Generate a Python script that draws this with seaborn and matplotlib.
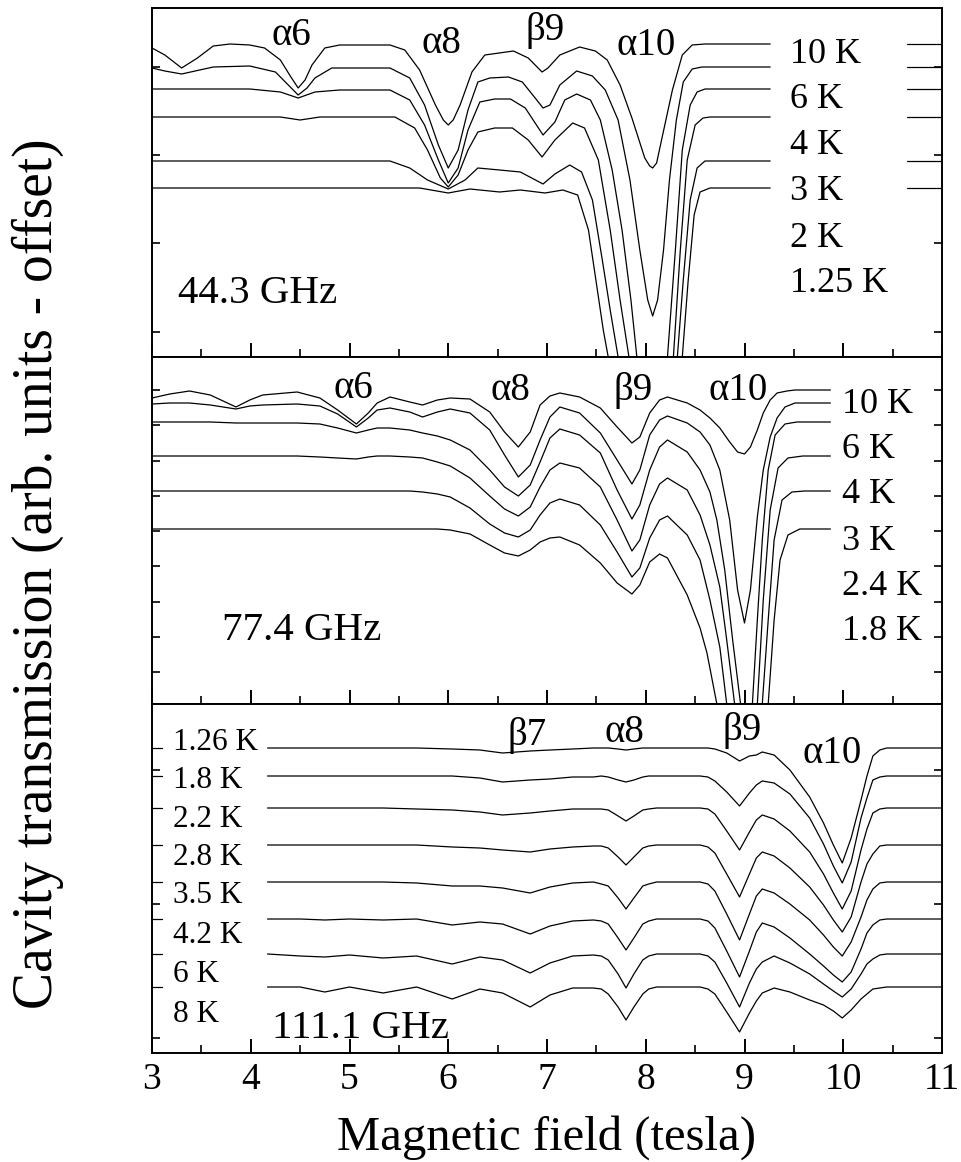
import numpy as np
import pandas as pd
import matplotlib
matplotlib.use("Agg")
import matplotlib.pyplot as plt
from matplotlib.ticker import MultipleLocator, FixedLocator
import seaborn as sns

# ---------------- DATA ----------------
# Top panel: 44.3 GHz (magnetic field in tesla, transmission in arb. units incl. offset)
top_10K_B = [3.00, 3.13, 3.30, 3.46, 3.62, 3.79, 3.99, 4.14, 4.30, 4.40, 4.48, 4.55, 4.62, 4.75, 4.90, 5.41, 5.56, 5.71, 5.87, 5.95, 6.00, 6.05, 6.12, 6.24, 6.37, 6.66, 6.81, 6.95, 7.01, 7.13, 7.33, 7.49, 7.61, 7.74, 7.86, 7.99, 8.04, 8.07, 8.11, 8.16, 8.27, 8.37, 8.47, 8.60, 9.26]
top_10K_y = [309, 302, 289, 299, 311, 313, 312, 309, 297, 281, 269, 277, 292, 309, 312, 312, 307, 287, 252, 237, 232, 237, 252, 285, 302, 306, 299, 285, 289, 302, 310, 306, 297, 272, 239, 199, 191, 189, 194, 217, 267, 302, 312, 313, 313]

top_6K_B = [3.00, 3.13, 3.30, 3.62, 3.99, 4.25, 4.38, 4.48, 4.57, 4.65, 4.82, 5.41, 5.61, 5.76, 5.90, 6.00, 6.10, 6.20, 6.30, 6.42, 6.61, 6.75, 6.88, 6.96, 7.03, 7.13, 7.30, 7.46, 7.59, 7.72, 7.84, 7.94, 8.02, 8.07, 8.12, 8.18, 8.24, 8.31, 8.38, 8.47, 8.57, 9.26]
top_6K_y = [289, 286, 283, 290, 291, 285, 272, 262, 269, 279, 289, 289, 279, 252, 212, 189, 207, 247, 275, 279, 280, 275, 259, 249, 252, 272, 286, 281, 267, 237, 177, 107, 57, 41, 57, 107, 177, 237, 275, 288, 290, 290]

top_4K_B = [3.00, 3.99, 4.30, 4.48, 4.65, 4.90, 5.41, 5.61, 5.76, 5.90, 6.00, 6.10, 6.20, 6.32, 6.47, 6.63, 6.78, 6.96, 7.08, 7.18, 7.30, 7.44, 7.54, 7.66, 7.76, 7.85, 7.91, 7.99, 8.06, 8.14, 8.22, 8.30, 8.37, 8.45, 8.52, 8.60, 9.26]
top_4K_y = [268, 268, 265, 259, 265, 267, 267, 257, 232, 197, 174, 189, 227, 255, 258, 258, 249, 222, 235, 257, 263, 257, 237, 187, 127, 57, 0, -53, -73, -43, 0, 107, 207, 252, 265, 268, 268]

top_3K_B = [3.00, 4.30, 4.50, 4.70, 5.46, 5.66, 5.79, 5.92, 6.00, 6.10, 6.20, 6.30, 6.47, 6.65, 6.81, 6.95, 7.08, 7.26, 7.38, 7.52, 7.64, 7.74, 7.83, 7.94, 8.04, 8.16, 8.28, 8.35, 8.42, 8.50, 8.58, 8.65, 9.26]
top_3K_y = [240, 240, 237, 240, 240, 229, 207, 179, 170, 182, 207, 225, 229, 229, 217, 200, 217, 234, 229, 197, 127, 57, 0, -63, -83, -63, 0, 107, 197, 232, 239, 240, 240]

top_2K_B = [3.00, 5.41, 5.61, 5.79, 6.00, 6.17, 6.30, 6.52, 6.73, 6.96, 7.08, 7.23, 7.35, 7.46, 7.56, 7.64, 7.72, 7.84, 7.99, 8.16, 8.32, 8.38, 8.45, 8.52, 8.60, 9.26]
top_2K_y = [196, 196, 189, 177, 168, 177, 189, 187, 185, 173, 183, 192, 185, 157, 97, 47, 0, -73, -103, -83, 0, 77, 157, 189, 196, 196]

top_125K_B = [3.00, 5.71, 6.00, 6.22, 6.52, 6.73, 6.98, 7.16, 7.31, 7.42, 7.51, 7.57, 7.62, 7.79, 7.99, 8.19, 8.37, 8.43, 8.49, 8.55, 8.65, 9.26]
top_125K_y = [169, 169, 164, 168, 165, 167, 164, 167, 162, 127, 67, 27, 0, -83, -113, -93, 0, 77, 142, 165, 169, 169]

top_stub_B = [10.65, 11.0]
top_levels = [313, 290, 268, 240, 196, 169]
top_temps = ["10 K", "6 K", "4 K", "3 K", "2 K", "1.25 K"]
top_temp_y = [294, 249, 203, 157, 110, 65]
top_peaks = ["\u03b16", "\u03b18", "\u03b29", "\u03b110"]
top_peak_B = [4.41, 5.93, 6.98, 8.00]
top_peak_y = [312, 304, 317, 302]

# Middle panel: 77.4 GHz
mid_B_common = [3.00, 3.18, 3.38, 3.59, 3.85, 3.99, 4.12, 4.47, 4.70, 4.88, 5.07, 5.19, 5.28, 5.41, 5.61, 5.74, 5.89, 6.02, 6.22, 6.42, 6.57, 6.71, 6.83, 6.93, 7.03, 7.13, 7.33, 7.54, 7.71, 7.86, 7.94, 8.04, 8.14, 8.22, 8.42, 8.55]
mid_10K_head = [306, 310, 313, 309, 297, 304, 309, 312, 306, 294, 280, 291, 301, 307, 302, 299, 304, 306, 305, 292, 272, 257, 272, 299, 308, 311, 307, 296, 277, 261, 267, 291, 304, 307, 301, 294]
mid_10K_tail_B = [8.65, 8.75, 8.85, 8.93, 9.00, 9.06, 9.13, 9.19, 9.26, 9.33, 9.43, 9.51, 9.87]
mid_10K_tail_y = [286, 276, 262, 252, 250, 257, 274, 291, 304, 311, 313, 314, 314]

mid_6K_head = [300, 301, 301, 299, 295, 298, 299, 300, 298, 290, 277, 286, 294, 296, 292, 287, 292, 295, 291, 274, 249, 227, 239, 264, 287, 297, 291, 271, 244, 220, 234, 269, 284, 288, 281, 272]
mid_6K_tail_B = [8.65, 8.75, 8.85, 8.93, 9.00, 9.06, 9.13, 9.19, 9.26, 9.33, 9.41, 9.51, 9.87]
mid_6K_tail_y = [259, 234, 184, 114, 81, 114, 187, 234, 267, 286, 297, 301, 301]

mid_4K_head = [282, 282, 282, 282, 281, 281, 281, 281, 280, 276, 271, 274, 276, 276, 274, 271, 268, 264, 254, 234, 217, 208, 219, 242, 266, 275, 269, 251, 214, 185, 199, 234, 257, 264, 252, 234]
mid_4K_tail_B = [8.65, 8.72, 8.80, 8.88, 8.96, 9.03, 9.08, 9.13, 9.18, 9.24, 9.31, 9.41, 9.53, 9.87]
mid_4K_tail_y = [212, 184, 134, 64, 0, -56, 0, 84, 164, 234, 269, 280, 282, 282]

mid_3K_head = [248, 248, 248, 248, 248, 248, 248, 248, 247, 246, 245, 247, 248, 248, 247, 246, 242, 238, 226, 208, 195, 188, 197, 217, 234, 241, 236, 217, 184, 153, 164, 199, 220, 226, 214, 189]
mid_3K_tail_B = [8.65, 8.75, 8.82, 8.90, 8.98, 9.08, 9.13, 9.19, 9.26, 9.34, 9.44, 9.59, 9.87]
mid_3K_tail_y = [159, 117, 64, 0, -76, -76, 0, 104, 194, 236, 246, 248, 248]

mid_24K_head = [213, 213, 213, 213, 213, 213, 213, 213, 213, 213, 213, 213, 213, 213, 213, 212, 210, 207, 196, 180, 171, 167, 174, 189, 201, 205, 199, 179, 152, 127, 136, 166, 184, 188, 169, 144]
mid_24K_tail_B = [8.65, 8.75, 8.82, 8.90, 9.08, 9.18, 9.24, 9.30, 9.38, 9.48, 9.61, 9.87]
mid_24K_tail_y = [104, 57, 0, -86, -96, 0, 84, 164, 204, 212, 213, 213]

mid_18K_head = [175, 175, 175, 175, 175, 175, 175, 175, 175, 175, 175, 175, 175, 175, 175, 175, 175, 174, 170, 159, 151, 148, 154, 162, 166, 167, 159, 141, 121, 110, 119, 142, 150, 146, 109, 76]
mid_18K_tail_B = [8.62, 8.72, 8.80, 9.16, 9.24, 9.30, 9.36, 9.44, 9.56, 9.87]
mid_18K_tail_y = [51, 0, -76, -96, 0, 84, 144, 169, 175, 175]

mid_temps = ["10 K", "6 K", "4 K", "3 K", "2.4 K", "1.8 K"]
mid_temp_y = [291, 246, 201, 154, 109, 64]
mid_peaks = ["\u03b16", "\u03b18", "\u03b29", "\u03b110"]
mid_peak_B = [5.04, 6.63, 7.87, 8.94]
mid_peak_y = [306, 304, 304, 304]

# Bottom panel: 111.1 GHz
bot_B = [4.17, 4.50, 4.75, 5.00, 5.34, 5.68, 6.04, 6.32, 6.55, 6.83, 7.03, 7.26, 7.47, 7.55, 7.62, 7.72, 7.80, 7.88, 7.97, 8.03, 8.11, 8.55, 8.63, 8.70, 8.82, 8.95, 9.05, 9.12, 9.18, 9.30, 9.46, 9.66, 9.80, 9.90, 9.99, 10.08, 10.18, 10.24, 10.30, 10.37, 10.44, 11.00]
bot_126K = [305, 305, 305, 305, 305, 305, 304, 303, 300, 302, 303, 304, 305, 305, 305, 304, 303, 304, 305, 305, 305, 305, 305, 304, 300, 292, 297, 298, 301, 298, 283, 256, 230, 208, 190, 215, 253, 277, 297, 303, 305, 305]
bot_18K = [277, 277, 277, 277, 277, 277, 277, 275, 271, 273, 274, 276, 276, 277, 276, 273, 271, 273, 276, 277, 277, 277, 276, 272, 261, 247, 260, 268, 272, 270, 259, 235, 209, 187, 170, 191, 235, 255, 273, 276, 277, 277]
bot_22K = [245, 245, 245, 245, 245, 244, 243, 241, 238, 240, 242, 244, 244, 244, 243, 237, 232, 237, 243, 244, 245, 245, 244, 239, 222, 203, 221, 233, 238, 234, 222, 201, 179, 160, 144, 162, 203, 224, 240, 244, 245, 245]
bot_28K = [208, 208, 208, 208, 208, 208, 206, 205, 203, 201, 204, 206, 207, 207, 205, 196, 188, 196, 205, 207, 208, 208, 206, 200, 179, 156, 179, 195, 201, 197, 185, 166, 148, 133, 121, 136, 171, 189, 199, 207, 208, 208]
bot_35K = [171, 171, 171, 171, 171, 170, 167, 167, 165, 160, 166, 170, 171, 169, 167, 155, 144, 155, 167, 169, 171, 171, 169, 162, 139, 113, 139, 157, 164, 160, 149, 133, 118, 106, 97, 111, 136, 153, 164, 170, 171, 171]
bot_42K = [134, 134, 133, 134, 133, 134, 128, 131, 129, 119, 127, 132, 133, 132, 129, 115, 103, 115, 129, 132, 134, 134, 132, 125, 102, 76, 102, 121, 130, 126, 115, 99, 87, 78, 71, 81, 104, 120, 128, 133, 134, 134]
bot_6K = [99, 97, 96, 98, 95, 97, 89, 96, 93, 80, 90, 97, 98, 97, 93, 79, 65, 79, 93, 97, 99, 99, 97, 91, 70, 46, 70, 84, 91, 97, 90, 79, 69, 62, 56, 64, 79, 89, 94, 98, 99, 99]
bot_8K = [66, 66, 61, 66, 60, 66, 54, 64, 60, 46, 58, 65, 65, 64, 59, 46, 33, 46, 59, 64, 66, 66, 64, 59, 41, 21, 40, 52, 60, 65, 61, 53, 48, 42, 35, 43, 54, 59, 64, 65, 66, 66]
bot_stub_B = [3.0, 3.10]
bot_levels = [305, 277, 245, 208, 171, 134, 99, 66]
bot_temps = ["1.26 K", "1.8 K", "2.2 K", "2.8 K", "3.5 K", "4.2 K", "6 K", "8 K"]
bot_temp_y = [303, 265, 226, 188, 150, 110, 71, 31]
bot_peaks = ["\u03b27", "\u03b18", "\u03b29", "\u03b110"]
bot_peak_B = [6.80, 7.78, 8.98, 9.89]
bot_peak_y = [308, 311, 313, 290]

freq_labels = ["44.3 GHz", "77.4 GHz", "111.1 GHz"]
freq_B = [3.26, 3.71, 4.22]
freq_y = [54, 64, 15]

# ---------------- STYLE ----------------
sns.set_theme(style="white")
plt.rcParams["font.family"] = ["Liberation Serif", "DejaVu Serif"]
plt.rcParams["axes.edgecolor"] = "black"
plt.rcParams["text.color"] = "black"
plt.rcParams["xtick.color"] = "black"
plt.rcParams["ytick.color"] = "black"
plt.rcParams["xtick.labelcolor"] = "black"

W, H = 962, 1162
fig = plt.figure(figsize=(W / 100, H / 100), dpi=100)
left, right = 152 / W, 942 / W
tops = [8, 357, 704]
bots = [357, 704, 1053]
axes = [fig.add_axes([left, 1 - b / H, right - left, (b - t) / H]) for t, b in zip(tops, bots)]

LW = 0.9


def draw(ax, curves):
    frames = [pd.DataFrame({"B": bx, "y": by, "curve": name}) for name, (bx, by) in curves.items()]
    df = pd.concat(frames, ignore_index=True)
    sns.lineplot(data=df, x="B", y="y", units="curve", estimator=None, sort=False,
                 color="black", lw=LW, ax=ax, legend=False)


# top panel
top_curves = {
    "10K": (top_10K_B, top_10K_y), "6K": (top_6K_B, top_6K_y), "4K": (top_4K_B, top_4K_y),
    "3K": (top_3K_B, top_3K_y), "2K": (top_2K_B, top_2K_y), "1.25K": (top_125K_B, top_125K_y),
}
for i, lv in enumerate(top_levels):
    top_curves[f"stub{i}"] = (top_stub_B, [lv, lv])
draw(axes[0], top_curves)

# middle panel
mid_curves = {}
for name, head, tb, ty in [("10K", mid_10K_head, mid_10K_tail_B, mid_10K_tail_y),
                           ("6K", mid_6K_head, mid_6K_tail_B, mid_6K_tail_y),
                           ("4K", mid_4K_head, mid_4K_tail_B, mid_4K_tail_y),
                           ("3K", mid_3K_head, mid_3K_tail_B, mid_3K_tail_y),
                           ("2.4K", mid_24K_head, mid_24K_tail_B, mid_24K_tail_y),
                           ("1.8K", mid_18K_head, mid_18K_tail_B, mid_18K_tail_y)]:
    mid_curves[name] = (mid_B_common + tb, head + ty)
draw(axes[1], mid_curves)

# bottom panel
bot_curves = {}
for name, yy in zip(bot_temps, [bot_126K, bot_18K, bot_22K, bot_28K, bot_35K, bot_42K, bot_6K, bot_8K]):
    bot_curves[name] = (bot_B, yy)
for i, lv in enumerate(bot_levels):
    bot_curves[f"stub{i}"] = (bot_stub_B, [lv, lv])
draw(axes[2], bot_curves)

# axes formatting
ylims = [(0, 349), (0, 347), (0, 349)]
yticks = [[25, 114, 202, 290],
          [32, 67, 102.5, 138, 173, 208, 243.5, 279, 314],
          [15, 149, 283]]
for k, ax in enumerate(axes):
    ax.set_xlim(3, 11)
    ax.set_ylim(*ylims[k])
    ax.set_xlabel("")
    ax.set_ylabel("")
    ax.xaxis.set_major_locator(MultipleLocator(1))
    ax.xaxis.set_minor_locator(MultipleLocator(0.5))
    ax.yaxis.set_major_locator(FixedLocator(yticks[k]))
    ax.tick_params(axis="x", which="both", direction="in", bottom=True, top=False,
                   labelbottom=(k == 2), labelsize=27, pad=7, color="black", labelcolor="black")
    ax.tick_params(axis="x", which="major", length=10, width=1.4)
    ax.tick_params(axis="x", which="minor", length=6, width=1.2)
    ax.tick_params(axis="y", which="both", direction="in", left=True, right=True,
                   labelleft=False, length=6, width=1.2, color="black")
    for s in ax.spines.values():
        s.set_linewidth(1.4)
        s.set_color("black")
    ax.set_facecolor("white")

# text labels
for s, yy in zip(top_temps, top_temp_y):
    axes[0].text(9.46, yy, s, fontsize=26, ha="left", va="baseline", color="black")
for s, bb, yy in zip(top_peaks, top_peak_B, top_peak_y):
    axes[0].text(bb, yy, s, fontsize=28, ha="center", va="baseline", color="black")
for s, yy in zip(mid_temps, mid_temp_y):
    axes[1].text(9.99, yy, s, fontsize=26, ha="left", va="baseline", color="black")
for s, bb, yy in zip(mid_peaks, mid_peak_B, mid_peak_y):
    axes[1].text(bb, yy, s, fontsize=28, ha="center", va="baseline", color="black")
for s, yy in zip(bot_temps, bot_temp_y):
    axes[2].text(3.21, yy, s, fontsize=22.5, ha="left", va="baseline", color="black")
for s, bb, yy in zip(bot_peaks, bot_peak_B, bot_peak_y):
    axes[2].text(bb, yy, s, fontsize=28, ha="center", va="baseline", color="black")
for ax, s, bb, yy in zip(axes, freq_labels, freq_B, freq_y):
    ax.text(bb, yy, s, fontsize=29.5, ha="left", va="baseline", color="black")

fig.text(547 / W, 1 - 1150 / H, "Magnetic field (tesla)", fontsize=35, ha="center",
         va="baseline", color="black")
fig.text(38 / W, 1 - 574 / H, "Cavity transmission (arb. units - offset)", fontsize=40,
         rotation=90, ha="center", va="center", color="black")

fig.savefig("out.png", dpi=100, facecolor="white")
